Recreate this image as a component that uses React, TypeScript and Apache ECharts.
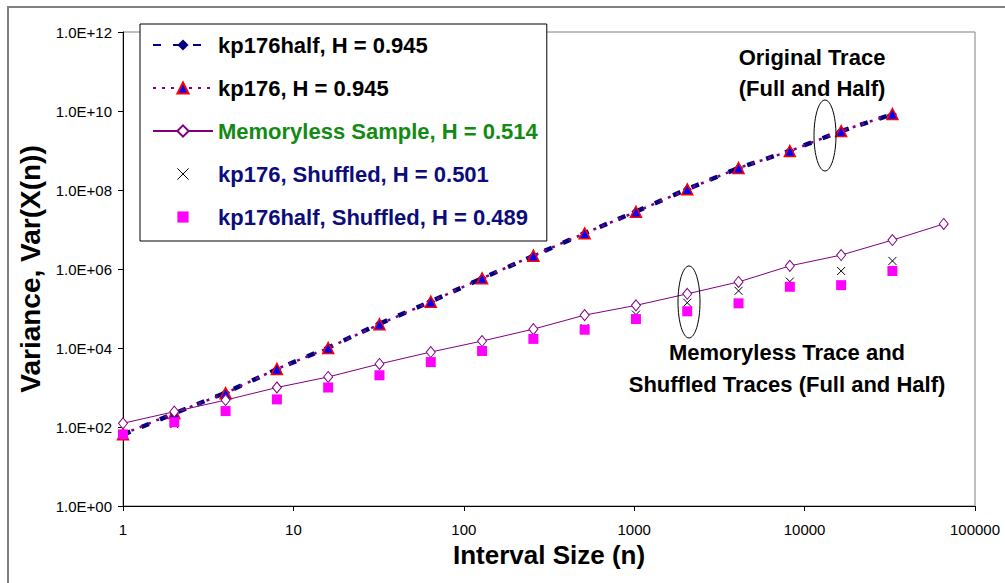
import React, { useEffect, useRef } from "react";
import * as echarts from "echarts";

const intervalSizes = [1, 2, 4, 8, 16, 32, 64, 128, 256, 512, 1024, 2048, 4096, 8192, 16384, 32768];
const memorylessSizes = [1, 2, 4, 8, 16, 32, 64, 128, 256, 512, 1024, 2048, 4096, 8192, 16384, 32768, 65536];

const kp176halfVar = [64, 220, 740, 2900, 1.02e4, 4.1e4, 1.5e5, 5.8e5, 2.15e6, 8.0e6, 2.85e7, 1.05e8, 3.6e8, 9.8e8, 3.1e9, 8.3e9];
const kp176Var = [66, 225, 720, 2950, 1.0e4, 4.0e4, 1.49e5, 5.8e5, 2.18e6, 8.0e6, 2.8e7, 1.04e8, 3.6e8, 9.7e8, 3.1e9, 8.4e9];
const memorylessVar = [124, 245, 480, 1000, 1850, 3950, 7900, 1.5e4, 3.0e4, 6.8e4, 1.2e5, 2.35e5, 4.7e5, 1.2e6, 2.25e6, 5.4e6, 1.38e7];
const kp176ShuffledVar = [60, 118, 240, 480, 960, 1950, 4300, 8200, 1.7e4, 3.2e4, 7.0e4, 1.4e5, 2.8e5, 4.8e5, 8.9e5, 1.6e6];
const kp176halfShuffledVar = [65, 132, 253, 500, 1000, 2040, 4400, 8400, 1.7e4, 2.9e4, 5.4e4, 8.5e4, 1.35e5, 3.55e5, 3.9e5, 8.9e5];

const seriesNames = [
  "kp176half, H = 0.945",
  "kp176, H = 0.945",
  "Memoryless Sample, H = 0.514",
  "kp176, Shuffled, H = 0.501",
  "kp176half, Shuffled, H = 0.489",
];
const legendColors = ["#000000", "#000000", "#138a13", "#0c0c7a", "#0c0c7a"];

const xAxisTitle = "Interval Size (n)";
const yAxisTitle = "Variance, Var(X(n))";
const noteTop = ["Original Trace", "(Full and Half)"];
const noteBottom = ["Memoryless Trace and", "Shuffled Traces (Full and Half)"];

const FONT = '"Liberation Sans", Arial, sans-serif';
const X_PATH = "path://M0,0L10,10M10,0L0,10";

function zip(xs: number[], ys: number[]) {
  return ys.map((y, i) => [xs[i], y]);
}

export default function App() {
  const ref = useRef<HTMLDivElement>(null);
  useEffect(() => {
    if (!ref.current) return;
    const chart = echarts.init(ref.current, null, { renderer: "svg" });
    const option: any = {
      animation: false,
      backgroundColor: "#ffffff",
      textStyle: { fontFamily: FONT },
      grid: {
        left: 123,
        top: 32,
        right: 30,
        bottom: 77,
        show: true,
        borderColor: "#808080",
        borderWidth: 1,
        backgroundColor: "transparent",
      },
      legend: {
        orient: "vertical",
        left: 140,
        top: 24,
        padding: [10, 9, 13, 12],
        itemWidth: 60,
        itemHeight: 14,
        itemGap: 21,
        borderColor: "#000000",
        borderWidth: 1,
        backgroundColor: "#ffffff",
        textStyle: { fontFamily: FONT, fontSize: 22, fontWeight: "bold" },
        data: [
          { name: seriesNames[0], textStyle: { color: legendColors[0] } },
          { name: seriesNames[1], textStyle: { color: legendColors[1] } },
          { name: seriesNames[2], textStyle: { color: legendColors[2] } },
          {
            name: seriesNames[3],
            textStyle: { color: legendColors[3] },
            itemStyle: { color: "transparent", borderColor: "#000000", borderWidth: 1 },
          },
          { name: seriesNames[4], textStyle: { color: legendColors[4] } },
        ],
      },
      xAxis: {
        type: "log",
        logBase: 10,
        min: 1,
        max: 100000,
        name: xAxisTitle,
        nameLocation: "middle",
        nameGap: 36,
        nameTextStyle: { fontFamily: FONT, fontSize: 26, fontWeight: "bold", color: "#000" },
        axisLine: { lineStyle: { color: "#000", width: 1 } },
        axisTick: { show: true, inside: false, length: 5, lineStyle: { color: "#000" } },
        minorTick: { show: false },
        splitLine: { show: false },
        axisLabel: {
          color: "#000",
          fontSize: 15,
          fontFamily: FONT,
          margin: 16,
          formatter: (v: number) => String(Math.round(v)),
        },
      },
      yAxis: {
        type: "log",
        logBase: 100,
        min: 1,
        max: 1e12,
        name: yAxisTitle,
        nameLocation: "middle",
        nameRotate: 90,
        nameGap: 66,
        nameTextStyle: { fontFamily: FONT, fontSize: 28, fontWeight: "bold", color: "#000" },
        axisLine: { show: true, lineStyle: { color: "#000", width: 1 } },
        axisTick: { show: true, inside: false, length: 5, lineStyle: { color: "#000" } },
        minorTick: { show: false },
        splitLine: { show: false },
        axisLabel: {
          color: "#000",
          fontSize: 15,
          fontFamily: FONT,
          margin: 11,
          formatter: (v: number) => {
            const e = Math.round(Math.log10(v));
            return "1.0E+" + (e < 10 ? "0" + e : String(e));
          },
        },
      },
      series: [
        {
          name: seriesNames[0],
          type: "line",
          data: zip(intervalSizes, kp176halfVar),
          symbol: "diamond",
          symbolSize: 9,
          itemStyle: { color: "#000080" },
          lineStyle: { color: "#000080", width: 4.5, type: [8, 12] },
          z: 2,
        },
        {
          name: seriesNames[1],
          type: "line",
          data: zip(intervalSizes, kp176Var),
          symbol: "triangle",
          symbolSize: 11,
          itemStyle: { color: "#0000ff", borderColor: "#ff0000", borderWidth: 1.5 },
          lineStyle: { color: "#800080", width: 2.5, type: [3, 6] },
          z: 3,
        },
        {
          name: seriesNames[2],
          type: "line",
          data: zip(memorylessSizes, memorylessVar),
          symbol: "diamond",
          symbolSize: [9, 11],
          itemStyle: { color: "#ffffff", borderColor: "#800080", borderWidth: 1 },
          lineStyle: { color: "#800080", width: 1 },
          z: 4,
        },
        {
          name: seriesNames[3],
          type: "line",
          data: zip(intervalSizes, kp176ShuffledVar),
          symbol: X_PATH,
          symbolSize: 8,
          symbolKeepAspect: true,
          itemStyle: { color: "transparent", borderColor: "#000000", borderWidth: 1 },
          lineStyle: { width: 0, opacity: 0 },
          z: 5,
        },
        {
          name: seriesNames[4],
          type: "line",
          data: zip(intervalSizes, kp176halfShuffledVar),
          symbol: "rect",
          symbolSize: 10,
          itemStyle: { color: "#ff00ff" },
          lineStyle: { width: 0, opacity: 0 },
          z: 6,
        },
      ],
      graphic: [
        {
          type: "rect",
          shape: { x: 8, y: 7, width: 1100, height: 700 },
          style: { fill: "none", stroke: "#808080", lineWidth: 2 },
          silent: true,
        },
        {
          type: "ellipse",
          shape: { cx: 825, cy: 135.5, rx: 11, ry: 35.5 },
          style: { fill: "none", stroke: "#000", lineWidth: 1 },
          z: 10,
        },
        {
          type: "ellipse",
          shape: { cx: 689, cy: 302, rx: 11, ry: 36 },
          style: { fill: "none", stroke: "#000", lineWidth: 1 },
          z: 10,
        },
        ...noteTop.map((t, i) => ({
          type: "text",
          x: 812,
          y: 57 + i * 31,
          style: {
            text: t,
            fontFamily: FONT,
            fontSize: 22,
            fontWeight: "bold",
            fill: "#000",
            align: "center",
            verticalAlign: "middle",
          },
          z: 10,
        })),
        ...noteBottom.map((t, i) => ({
          type: "text",
          x: 787,
          y: 352 + i * 32,
          style: {
            text: t,
            fontFamily: FONT,
            fontSize: 22,
            fontWeight: "bold",
            fill: "#000",
            align: "center",
            verticalAlign: "middle",
          },
          z: 10,
        })),
      ],
    };
    chart.setOption(option);
    return () => chart.dispose();
  }, []);
  return (
    <div
      ref={ref}
      style={{ position: "absolute", left: 0, top: 0, width: 1005, height: 583, background: "#fff" }}
    />
  );
}
